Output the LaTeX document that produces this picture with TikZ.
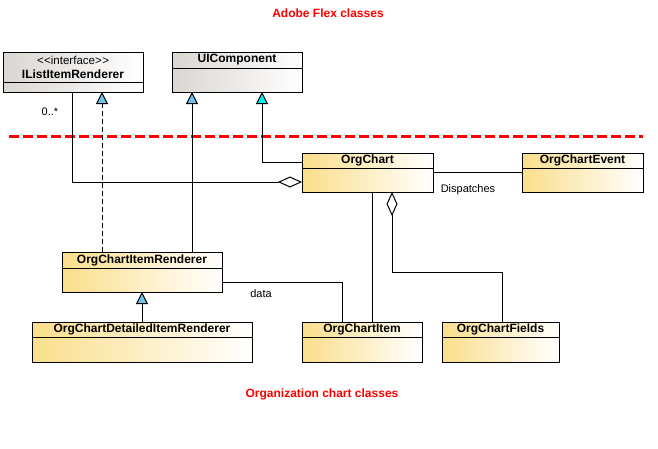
\documentclass[tikz,border=0pt]{standalone}
\usepackage{fontspec}
\setmainfont{Liberation Sans}
\usetikzlibrary{arrows.meta, positioning}

\definecolor{classyel}{RGB}{250,222,140}
\definecolor{flexgray}{RGB}{218,214,210}
\definecolor{flexblue}{RGB}{110,196,232}
\definecolor{flexcyan}{RGB}{0,240,240}

\tikzset{
  classbox/.style={draw, anchor=north west, inner sep=0pt, outer sep=0pt, align=center,
    right color=white, font=\fontsize{12}{14}\selectfont\bfseries},
  realize/.style={dash pattern=on 5pt off 3pt, -{Triangle[width=12pt,length=12pt,fill=flexblue]}},
  inherit/.style={-{Triangle[width=12pt,length=12pt,fill=#1]}},
  aggr/.style={{Diamond[width=11pt,length=24pt,fill=white]}-},
  lbl/.style={font=\fontsize{11}{13}\selectfont},
  title/.style={text=red, font=\fontsize{12}{14}\selectfont\bfseries}
}

\begin{document}
\begin{tikzpicture}[x=1pt, y=-1pt, line width=1pt]
    \useasboundingbox (0,0) rectangle (658,448);

    % Titles
    \node[title] (flex) at (328,13) {Adobe Flex classes};
    \node[title] (org) at (322,394) {Organization chart classes};

    % Classes: header and body
    \foreach \n/\x/\y/\w/\hh/\bh/\col/\txt in {
        ilist/3/52/140/30/10/flexgray/{{\mdseries\fontsize{11.5}{15}\selectfont <\kern0.5pt<interface>\kern0.5pt>}\\IListItemRenderer},
        uicomp/172/52/130/16/24/flexgray/UIComponent,
        chart/302/153/131/15/24/classyel/OrgChart,
        event/522/153/121/15/24/classyel/OrgChartEvent,
        renderer/62/252/160/16/24/classyel/OrgChartItemRenderer,
        detailed/32/322/220/15/25/classyel/OrgChartDetailedItemRenderer,
        item/302/322/120/15/25/classyel/OrgChartItem,
        fields/442/322/117/15/25/classyel/OrgChartFields}
    {
      \node[classbox, left color=\col, minimum width=\w, minimum height=\hh] (\n) at (\x,\y) {\txt};
      \node[classbox, left color=\col, minimum width=\w, minimum height=\bh] (\n-b) at (\n.south west) {};
    }

    % Package border
    \draw[red, line width=3pt, dash pattern=on 10pt off 4pt] (9,136) -- (643,136);

    % Realization and generalization
    \draw[realize] ([xshift=40]renderer.north west) -- ([xshift=99]ilist-b.south west);
    \draw[inherit=flexblue] ([xshift=130]renderer.north west) -- ([xshift=20]uicomp-b.south west);
    \draw[inherit=flexcyan] ([yshift=-9]chart.north west) -| ([xshift=90]uicomp-b.south west);
    \draw[inherit=flexblue] ([xshift=110]detailed.north west) -- ([xshift=80]renderer-b.south west);

    % Aggregations
    \draw[aggr] ([yshift=-14]chart-b.north west) -| ([xshift=69]ilist-b.south west);
    \draw[aggr] ([xshift=90]chart-b.south west) -- ++(0,80) -| ([xshift=60]fields.north west);

    % Associations
    \draw ([yshift=-4]chart-b.north east) -- ([yshift=-4]event-b.north west);
    \draw ([xshift=70]chart-b.south west) -- ([xshift=70]item.north west);
    \draw ([yshift=-14]renderer-b.north east) -| ([xshift=40]item.north west);

    % Labels
    \node[lbl] (many) at (50,112) {0..*};
    \node[lbl] (dispatch) at (468,190) {Dispatches};
    \node[lbl] (data) at (261,294) {data};
\end{tikzpicture}
\end{document}
